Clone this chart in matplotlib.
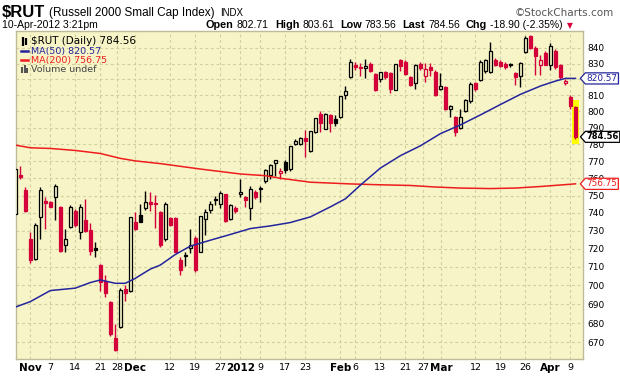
import matplotlib
matplotlib.use('Agg')
import matplotlib.pyplot as plt
from matplotlib.path import Path
from matplotlib.ticker import FixedLocator, FixedFormatter, NullLocator

# Datos diarios del $RUT (27-Oct-2011 a 10-Apr-2012)
opens = [739.3, 762.0, 753.2, 725.6, 714.5, 737.6, 746.8, 746.0, 749.1, 743.4,
         721.9, 732.1, 741.1, 729.3, 736.3, 730.3, 720.6, 711.0, 702.3, 690.9,
         672.3, 677.8, 697.9, 697.0, 734.7, 738.9, 743.0, 746.0, 745.8, 740.5,
         725.2, 737.1, 737.1, 713.7, 716.5, 720.1, 726.0, 718.3, 736.8, 741.6,
         748.0, 745.4, 750.6, 736.8, 743.0, 750.8, 748.9, 743.0, 752.2, 754.3,
         758.2, 762.0, 768.7, 762.8, 769.3, 765.4, 780.0, 780.2, 783.9, 776.2,
         787.7, 798.5, 789.6, 797.9, 795.2, 796.4, 809.9, 821.2, 829.3, 828.0,
         827.3, 830.0, 823.6, 820.2, 824.5, 824.0, 813.3, 832.5, 830.9, 821.2,
         817.6, 830.0, 822.4, 827.8, 824.6, 813.8, 815.0, 801.7, 796.7, 790.2,
         800.2, 806.3, 817.6, 819.7, 825.0, 824.6, 832.5, 831.0, 830.0, 829.5,
         824.0, 821.8, 837.2, 847.5, 840.0, 829.3, 836.8, 828.9, 838.0, 829.0,
         817.5, 809.0, 802.71]
highs = [766.0, 766.9, 754.8, 729.3, 734.2, 754.8, 749.1, 746.7, 756.8, 744.0,
         731.2, 744.5, 742.0, 745.4, 748.1, 734.2, 723.8, 711.5, 705.5, 691.5,
         679.6, 698.5, 700.2, 737.8, 740.6, 745.0, 752.7, 752.3, 750.5, 741.0,
         746.0, 738.0, 738.0, 715.5, 718.3, 731.2, 727.0, 738.5, 742.4, 747.0,
         749.5, 752.5, 751.0, 745.0, 744.0, 759.6, 750.0, 755.4, 753.0, 755.4,
         765.5, 768.5, 771.0, 766.0, 771.0, 779.0, 783.5, 784.5, 788.8, 788.0,
         796.0, 800.5, 799.0, 798.5, 797.9, 809.8, 815.5, 833.1, 830.8, 830.4,
         833.1, 831.0, 824.0, 824.8, 825.0, 824.5, 830.0, 833.0, 832.0, 822.0,
         829.5, 831.0, 830.4, 830.4, 826.0, 824.0, 816.0, 804.0, 797.0, 801.3,
         807.4, 818.0, 818.0, 832.0, 833.0, 843.6, 833.5, 832.0, 831.0, 830.5,
         824.5, 831.0, 848.0, 848.5, 841.0, 835.5, 838.0, 843.0, 839.0, 830.0,
         820.0, 810.0, 803.61]
lows = [738.5, 759.6, 740.5, 711.9, 713.5, 725.6, 731.2, 743.2, 736.3, 718.0,
        718.3, 731.5, 732.0, 725.2, 729.0, 716.5, 715.5, 697.0, 694.0, 673.5,
        665.8, 677.5, 691.7, 696.5, 730.5, 734.7, 741.5, 740.9, 731.7, 721.0,
        724.5, 732.5, 718.0, 705.5, 710.5, 717.8, 707.0, 718.0, 727.8, 740.0,
        744.5, 743.0, 735.0, 736.0, 740.0, 749.3, 743.4, 736.3, 748.0, 746.0,
        757.5, 759.5, 761.5, 759.5, 763.0, 764.0, 779.6, 779.5, 772.3, 775.5,
        787.0, 787.7, 789.0, 787.7, 791.2, 796.0, 807.8, 821.0, 825.7, 822.4,
        821.1, 824.5, 812.5, 818.0, 820.5, 811.5, 813.0, 825.0, 823.0, 815.5,
        814.0, 826.0, 818.0, 822.0, 809.5, 813.0, 801.0, 796.7, 785.2, 789.5,
        799.5, 805.5, 812.5, 819.0, 824.0, 824.0, 828.5, 827.5, 826.5, 827.8,
        816.7, 815.0, 836.5, 839.5, 822.9, 822.9, 829.0, 826.0, 826.5, 820.0,
        816.5, 801.5, 783.56]
closes = [765.2, 760.8, 740.9, 713.7, 733.0, 753.0, 745.6, 743.6, 755.3, 718.6,
          725.6, 743.6, 733.0, 743.4, 729.8, 718.6, 719.3, 701.6, 695.8, 674.1,
          666.2, 697.5, 695.8, 737.6, 731.0, 735.1, 746.3, 745.4, 745.0, 721.8,
          745.4, 733.0, 718.3, 708.3, 716.0, 722.3, 708.3, 738.1, 740.6, 745.4,
          747.6, 751.2, 735.7, 744.8, 740.9, 752.2, 747.2, 753.6, 749.3, 753.8,
          764.9, 767.7, 770.7, 764.3, 764.8, 778.9, 781.9, 784.1, 782.1, 787.9,
          795.8, 793.1, 798.5, 792.7, 792.9, 809.4, 812.5, 831.1, 827.8, 827.2,
          828.6, 825.1, 813.1, 824.6, 821.2, 813.7, 829.8, 828.2, 823.4, 816.2,
          829.3, 827.2, 826.6, 825.7, 809.9, 815.6, 801.5, 803.4, 787.5, 796.7,
          806.9, 817.2, 813.8, 831.1, 832.0, 838.3, 829.3, 828.5, 827.5, 828.8,
          821.2, 830.4, 846.5, 840.0, 834.6, 832.5, 829.3, 841.1, 827.6, 821.5,
          819.1, 803.46, 784.56]

# Medias moviles (indice de sesion, valor)
ma50_idx = [0, 3, 7, 12, 15, 17, 20, 22, 24, 27, 29, 32, 35, 39, 43, 47, 51, 55,
            59, 63, 66, 69, 73, 77, 81, 85, 89, 93, 97, 101, 105, 108, 110, 112]
ma50_val = [688.4, 691.3, 697.2, 698.5, 701.5, 702.9, 701.1, 701.1, 703.8, 708.8,
            711.0, 716.8, 721.4, 724.7, 727.9, 731.2, 732.7, 734.6, 737.8, 743.5,
            748.1, 756.0, 766.0, 773.3, 779.2, 786.5, 791.8, 797.9, 804.3, 810.6,
            815.8, 818.9, 820.6, 820.57]
ma200_idx = [0, 3, 7, 12, 17, 21, 24, 29, 37, 45, 50, 53, 59, 67, 73, 79, 84, 89,
             95, 100, 105, 110, 112]
ma200_val = [779.6, 778.0, 777.6, 776.4, 774.6, 771.7, 770.2, 768.6, 765.4, 762.5,
             761.5, 760.0, 757.7, 756.7, 756.2, 755.8, 754.9, 754.3, 754.0, 754.3,
             755.2, 756.3, 756.75]

# Etiquetas del eje x
tick_idx = [3, 7, 12, 17, 20.4, 24, 31, 36, 41, 45, 49, 54, 58, 65, 68, 73, 78, 81.5,
            85.2, 92, 97, 102, 107, 111]
tick_lab = ['Nov', '7', '14', '21', '28', 'Dec', '12', '19', '27', '2012', '9', '17',
            '23', 'Feb', '6', '13', '21', '27', 'Mar', '12', '19', '26', 'Apr', '9']
y_ticks = list(range(670, 850, 10))

W, H = 620, 376
bg = '#f7f5c8'
red = '#d4003a'

fig = plt.figure(figsize=(W / 100, H / 100), dpi=100)
ax = fig.add_axes([16 / W, 1 - 359 / H, 567 / W, 328 / H])
ax.set_facecolor(bg)
ax.set_yscale('log')
ax.set_ylim(661.5, 851.0)
ax.set_xlim(0.14, 113.5)

for s in ax.spines.values():
    s.set_color('#bdbb98')
    s.set_linewidth(1)

# rejilla punteada
ax.set_axisbelow(True)
ax.grid(True, color='#d2cf9e', linestyle=(0, (2.5, 2.5)), linewidth=0.8)

# resaltado amarillo de la ultima vela
n = len(closes)
ax.bar(n - 1, highs[-1] * 1.004 - lows[-1] * 0.996, bottom=lows[-1] * 0.996,
       width=1.35, color='#ffff00', zorder=1.5)

# velas: rojo si cierra por debajo del cierre anterior, hueca si cierra sobre la apertura
for i in range(n):
    o, h, l, c = opens[i], highs[i], lows[i], closes[i]
    prev = closes[i - 1] if i > 0 else o - 20
    col = red if c < prev else 'black'
    relleno = col if c < o else bg
    ax.vlines(i, l, h, color=col, linewidth=1, zorder=2)
    alto = max(abs(c - o), 0.5)
    ax.bar(i, alto, bottom=min(o, c), width=0.62, facecolor=relleno,
           edgecolor=col, linewidth=0.9, zorder=3)

ax.plot(ma200_idx, ma200_val, color='#ee1c1c', linewidth=1.1, zorder=4)
ax.plot(ma50_idx, ma50_val, color='#24249c', linewidth=1.1, zorder=4)

# ejes
ax.yaxis.tick_right()
ax.yaxis.set_major_locator(FixedLocator(y_ticks))
ax.yaxis.set_major_formatter(FixedFormatter([str(v) for v in y_ticks]))
ax.yaxis.set_minor_locator(NullLocator())
ax.tick_params(axis='y', length=0, pad=3, labelsize=6.5)
ax.set_xticks(tick_idx)
ax.set_xticklabels(tick_lab)
ax.tick_params(axis='x', length=0, pad=3, labelsize=6.8)
for t in ax.get_xticklabels():
    if t.get_text() in ('Nov', 'Dec', '2012', 'Feb', 'Mar', 'Apr'):
        t.set_fontweight('bold')
        t.set_fontsize(7.5)


# etiqueta con punta a la izquierda para los valores actuales
def etiqueta(x0, y0, width, height, mutation_size):
    pad = 0.12 * mutation_size
    x0, y0 = x0 - pad, y0 - pad
    w, h = width + 2 * pad, height + 2 * pad
    punta = h * 0.45
    verts = [(x0 - punta, y0 + h / 2), (x0, y0), (x0 + w, y0), (x0 + w, y0 + h),
             (x0, y0 + h), (x0 - punta, y0 + h / 2)]
    return Path(verts, closed=True)


for val, col, peso, tam in [(ma50_val[-1], '#24249c', 'normal', 6.4),
                            (ma200_val[-1], '#ee1c1c', 'normal', 6.4),
                            (closes[-1], 'black', 'bold', 6.0)]:
    ax.text(1.006, val, '%.2f' % val, transform=ax.get_yaxis_transform(),
            ha='left', va='center', fontsize=tam, color=col, fontweight=peso,
            clip_on=False, zorder=10,
            bbox=dict(boxstyle=etiqueta, facecolor='white', edgecolor=col, linewidth=0.9))

# leyenda dentro del grafico
ax.text(0.026, 0.968, '$RUT (Daily) %.2f' % closes[-1], transform=ax.transAxes,
        fontsize=7.5, va='center', color='black')
ax.vlines([0.012, 0.017], [0.955, 0.958], [0.982, 0.98], transform=ax.transAxes,
          color='black', linewidth=1.6)
ax.text(0.026, 0.939, 'MA(50) %.2f' % ma50_val[-1], transform=ax.transAxes,
        fontsize=6.8, va='center', color='#24249c')
ax.plot([0.008, 0.022], [0.939, 0.939], transform=ax.transAxes, color='#24249c', lw=1.8)
ax.text(0.026, 0.911, 'MA(200) %.2f' % ma200_val[-1], transform=ax.transAxes,
        fontsize=6.8, va='center', color='#ee1c1c')
ax.plot([0.008, 0.022], [0.911, 0.911], transform=ax.transAxes, color='#ee1c1c', lw=1.8)
ax.text(0.026, 0.883, 'Volume undef', transform=ax.transAxes,
        fontsize=6.8, va='center', color='#444444')
ax.vlines([0.010, 0.015, 0.020], [0.873, 0.873, 0.873], [0.890, 0.896, 0.886],
          transform=ax.transAxes, color='#555555', linewidth=1.5)

# cabecera
renderer = fig.canvas.get_renderer()


def poner(x, y, s, **kw):
    t = fig.text(x / W, 1 - y / H, s, va='baseline', **kw)
    return t.get_window_extent(renderer).x1


x = poner(2, 17, '$RUT', fontsize=12, fontweight='bold', family='Liberation Sans')
x = poner(x + 4, 16, '(Russell 2000 Small Cap Index)', fontsize=8.5, family='Liberation Sans')
poner(x + 5, 16, 'INDX', fontsize=7, family='Liberation Sans')
fig.text(614 / W, 1 - 16 / H, '\u00a9StockCharts.com', ha='right', va='baseline',
         fontsize=7.5, color='#555555', family='DejaVu Sans')

poner(2, 28, '10-Apr-2012 3:21pm', fontsize=7.5, family='Liberation Sans')
x = 206
for lab, val in [('Open', '%.2f' % opens[-1]), ('High', '%.2f' % highs[-1]),
                 ('Low', '%.2f' % lows[-1]), ('Last', '%.2f' % closes[-1]),
                 ('Chg', '%.2f (%.2f%%)' % (closes[-1] - closes[-2],
                                            (closes[-1] - closes[-2]) / closes[-2] * 100))]:
    x = poner(x, 28, lab, fontsize=7.8, fontweight='bold', family='Liberation Sans')
    x = poner(x + 3, 28, val, fontsize=7.5, family='Liberation Sans') + 6
poner(x - 2, 28, '\u25bc', fontsize=5.5, color=red, family='DejaVu Sans')

fig.savefig('out.png', dpi=100)
